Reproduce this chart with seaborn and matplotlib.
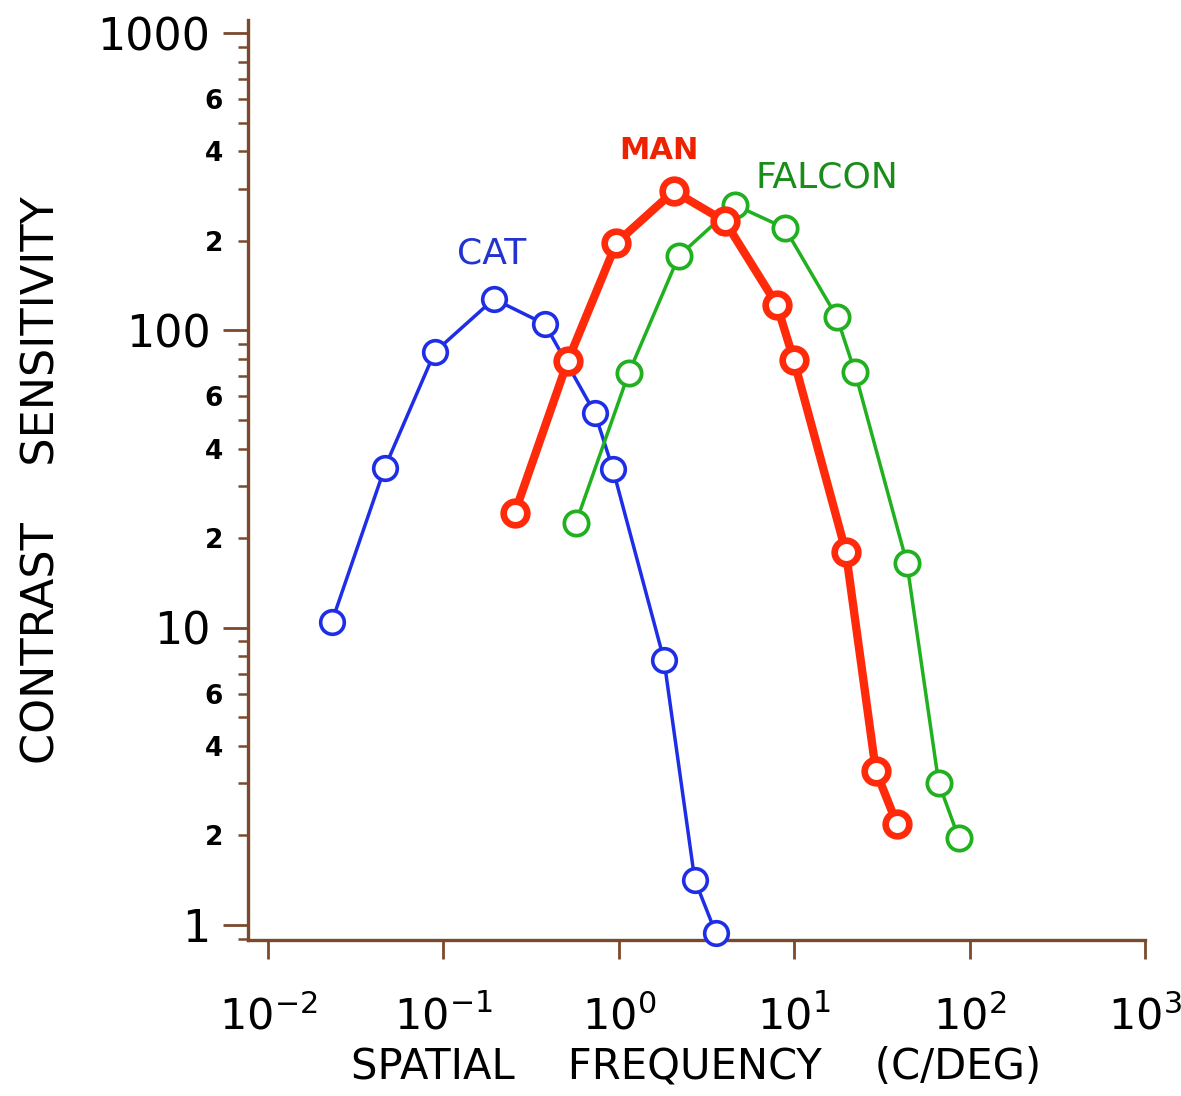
import numpy as np
import pandas as pd
import matplotlib
matplotlib.use("Agg")
import matplotlib.pyplot as plt
import seaborn as sns
from matplotlib.ticker import LogLocator, FixedLocator, FuncFormatter, NullLocator

# ---------------- data ----------------
cat_freq = [0.0231, 0.0463, 0.0893, 0.194, 0.379, 0.73, 0.925, 1.81, 2.71, 3.57]
cat_sens = [10.45, 34.5, 84.6, 127.5, 105, 52.7, 34.2, 7.79, 1.42, 0.94]

man_freq = [0.255, 0.512, 0.97, 2.06, 4.02, 7.96, 9.95, 19.7, 29.2, 38.5]
man_sens = [24.3, 78.9, 197, 294, 233, 122, 79.5, 18.0, 3.30, 2.19]

falcon_freq = [0.569, 1.14, 2.2, 4.59, 8.84, 17.5, 22.2, 43.9, 66.7, 86.8]
falcon_sens = [22.5, 71.9, 178, 264, 221, 111, 72.4, 16.5, 3.0, 1.96]

x_ticks = [1e-2, 1e-1, 1e0, 1e1, 1e2, 1e3]
x_tick_labels = [r"$\mathregular{10^{-2}}$", r"$\mathregular{10^{-1}}$", r"$\mathregular{10^{0}}$",
                 r"$\mathregular{10^{1}}$", r"$\mathregular{10^{2}}$", r"$\mathregular{10^{3}}$"]
y_ticks = [1, 10, 100, 1000]
y_tick_labels = ["1", "10", "100", "1000"]
y_minor_labelled = [2, 4, 6]

series_names = ["CAT", "MAN", "FALCON"]
x_label = "SPATIAL    FREQUENCY    (C/DEG)"
y_label = "CONTRAST    SENSITIVITY"

# ---------------- styles ----------------
blue = "#1e2ee6"
red = "#ff2a0a"
green = "#20b020"
brown = "#7a4a2e"

sns.set_theme(style="white")
plt.rcParams["font.family"] = ["DejaVu Sans"]
plt.rcParams["mathtext.fontset"] = "dejavusans"

fig = plt.figure(figsize=(11.81, 10.96), dpi=100)
ax = fig.add_axes([248 / 1181, 1 - 940 / 1096, (1145 - 248) / 1181, (940 - 20) / 1096])

styles = {
    "CAT": dict(color=blue, linewidth=2.5, markersize=17, markeredgewidth=2.6),
    "MAN": dict(color=red, linewidth=6.0, markersize=17, markeredgewidth=4.8),
    "FALCON": dict(color=green, linewidth=2.5, markersize=17.5, markeredgewidth=2.7),
}
frames = {
    "CAT": pd.DataFrame({"freq": cat_freq, "sens": cat_sens}),
    "MAN": pd.DataFrame({"freq": man_freq, "sens": man_sens}),
    "FALCON": pd.DataFrame({"freq": falcon_freq, "sens": falcon_sens}),
}

for name in ["CAT", "FALCON", "MAN"]:
    st = styles[name]
    sns.lineplot(data=frames[name], x="freq", y="sens", ax=ax, marker="o",
                 markerfacecolor="white", markeredgecolor=st["color"],
                 color=st["color"], linewidth=st["linewidth"],
                 markersize=st["markersize"], markeredgewidth=st["markeredgewidth"],
                 clip_on=False, zorder=3)

ax.set_xscale("log")
ax.set_yscale("log")
ax.set_xlim(10 ** -2.114, 1e3)
ax.set_ylim(10 ** -0.0505, 10 ** 3.044)

# spines
for s in ["top", "right"]:
    ax.spines[s].set_visible(False)
for s in ["left", "bottom"]:
    ax.spines[s].set_color(brown)
    ax.spines[s].set_linewidth(2.4)
ax.grid(False)

# x ticks
ax.xaxis.set_major_locator(FixedLocator(x_ticks))
ax.set_xticklabels(x_tick_labels)
ax.xaxis.set_minor_locator(NullLocator())
ax.tick_params(axis="x", which="major", direction="out", length=14, width=2,
               color=brown, labelsize=31, pad=26, labelcolor="black", bottom=True)

# y ticks
ax.yaxis.set_major_locator(FixedLocator(y_ticks))
ax.set_yticklabels(y_tick_labels)
ax.yaxis.set_minor_locator(LogLocator(base=10, subs=range(2, 10), numticks=30))

def minor_fmt(v, pos):
    m = v / 10 ** np.floor(np.log10(v) + 1e-9)
    mi = int(round(m))
    return str(mi) if mi in y_minor_labelled and abs(m - mi) < 1e-6 else ""

ax.yaxis.set_minor_formatter(FuncFormatter(minor_fmt))
ax.tick_params(axis="y", which="major", direction="out", length=18, width=2,
               color=brown, labelsize=32, pad=9, labelcolor="black", left=True)
ax.tick_params(axis="y", which="minor", direction="out", length=7, width=1.8,
               color=brown, labelsize=19, pad=11, labelcolor="black", left=True)
for lab in ax.yaxis.get_minorticklabels():
    lab.set_fontweight("bold")

# axis labels
ax.set_xlabel(x_label, fontsize=30, color="black")
ax.set_ylabel(y_label, fontsize=32, color="black")
ax.xaxis.set_label_coords(0.5, -0.115)
ax.yaxis.set_label_coords(-0.206, 0.5)

# series labels
label_pos = {"CAT": (0.189, 182), "MAN": (1.69, 404), "FALCON": (15.3, 328)}
label_col = {"CAT": "#2233d0", "MAN": "#ee2200", "FALCON": "#1a8c1a"}
label_wt = {"CAT": "normal", "MAN": "bold", "FALCON": "normal"}
label_size = {"CAT": 26, "MAN": 22, "FALCON": 26}
for name in series_names:
    x, y = label_pos[name]
    ax.text(x, y, name, color=label_col[name], fontsize=label_size[name],
            fontweight=label_wt[name], ha="center", va="center")

fig.savefig("out.png", dpi=100, facecolor="white")
